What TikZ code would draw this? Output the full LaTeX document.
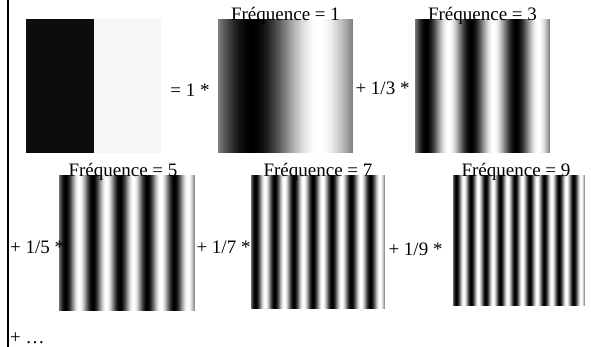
\documentclass[tikz,border=0pt]{standalone}
\usepackage{fontspec}
\setmainfont{Liberation Serif}
% #1 left x, #2 top y, #3 width, #4 height, #5 frequency
\newcommand\drawwave[5]{%
  \pgfmathtruncatemacro\nlast{#3-1}%
  \pgfmathsetmacro\wstep{360*#5/#3}%
  \foreach \i in {0,...,\nlast}{%
    \pgfmathtruncatemacro\g{max(0,min(100,round(50+50*sin((\i+0.5)*\wstep))))}%
    \pgfmathsetmacro\xr{min(\i+1.4,#3)}%
    \fill[black!\g!white] (#1+\i,#2) rectangle (#1+\xr,#2+#4);
  }%
}
\begin{document}
\begin{tikzpicture}[x=1pt,y=-1pt,
  lbl/.style={inner sep=0pt, anchor=base, font=\fontsize{19}{22}\selectfont},
  border/.style={line width=2.5pt}]
\useasboundingbox (0,0) rectangle (591,347);
\fill[white] (0,0) rectangle (591,347);
\coordinate (btop) at (8,0);
\coordinate (bbot) at (8,347);
\draw[border] (btop) -- (bbot);
% square wave
\fill[black!95] (26,19) rectangle (94,153);
\fill[black!3] (94,19) rectangle (161,153);
% sine images
\drawwave{218}{19}{135}{134}{1}
\drawwave{415}{19}{135}{134}{3}
\drawwave{59}{175}{136}{136}{5}
\drawwave{251}{175}{134}{134}{7}
\drawwave{453}{175}{132}{131}{9}
% labels
\node[lbl] (f1) at (285.5,21) {Fréquence = 1};
\node[lbl] (f3) at (482.5,21) {Fréquence = 3};
\node[lbl] (f5) at (123,177) {Fréquence = 5};
\node[lbl] (f7) at (318,177) {Fréquence = 7};
\node[lbl] (f9) at (516,177) {Fréquence = 9};
\node[lbl] (o1) at (190,97) {= 1 *};
\node[lbl] (o3) at (382.5,95) {+ 1/3 *};
\node[lbl, anchor=base west] (o5) at (10,253) {+ 1/5 *};
\node[lbl] (o7) at (223.5,253) {+ 1/7 *};
\node[lbl] (o9) at (415.5,255) {+ 1/9 *};
\node[lbl, anchor=base west] (od) at (10,343) {+ …};
\end{tikzpicture}
\end{document}
